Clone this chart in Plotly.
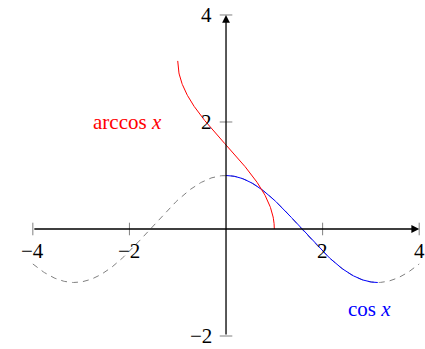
import numpy as np
import plotly.graph_objects as go

# axis extents and tick values
x_ticks = [-4, -2, 2, 4]
y_ticks = [-2, 2, 4]
x_min, x_max = -4, 4
y_min, y_max = -2, 4

# sampled domains for the curves
x_full = np.linspace(-4, 4, 400)
x_cos = np.linspace(0, np.pi, 300)
x_acos = np.linspace(-1, 1, 400)

font_family = "'Liberation Serif', 'DejaVu Serif', serif"
tick_gray = "#808080"

fig = go.Figure()

# full cosine, dashed gray
fig.add_trace(go.Scatter(x=x_full, y=np.cos(x_full), mode="lines",
                         line=dict(color="#808080", width=1, dash="6px,5px"),
                         hoverinfo="skip"))
# restricted cosine on [0, pi]
fig.add_trace(go.Scatter(x=x_cos, y=np.cos(x_cos), mode="lines",
                         line=dict(color="#0000ff", width=1), hoverinfo="skip"))
# its inverse
fig.add_trace(go.Scatter(x=x_acos, y=np.arccos(x_acos), mode="lines",
                         line=dict(color="#ff0000", width=1), hoverinfo="skip"))

# tick marks on the centred axes
fig.add_trace(go.Scatter(x=x_ticks, y=[0] * len(x_ticks), mode="markers",
                         marker=dict(symbol="line-ns", size=9,
                                     line=dict(color=tick_gray, width=1)),
                         hoverinfo="skip"))
fig.add_trace(go.Scatter(x=[0] * len(y_ticks), y=y_ticks, mode="markers",
                         marker=dict(symbol="line-ew", size=9,
                                     line=dict(color=tick_gray, width=1)),
                         hoverinfo="skip"))

# axis lines with arrow heads
fig.add_annotation(x=x_max, y=0, ax=x_min, ay=0, xref="x", yref="y",
                   axref="x", ayref="y", text="", showarrow=True,
                   arrowhead=2, arrowsize=1.2, arrowwidth=1.3, arrowcolor="black")
fig.add_annotation(x=0, y=y_max, ax=0, ay=y_min, xref="x", yref="y",
                   axref="x", ayref="y", text="", showarrow=True,
                   arrowhead=2, arrowsize=1.2, arrowwidth=1.3, arrowcolor="black")

# tick labels
for v in x_ticks:
    fig.add_annotation(x=v, y=0, xref="x", yref="y", text=f"{v}".replace("-", "−"),
                       showarrow=False, yshift=-22,
                       font=dict(family=font_family, size=21, color="black"))
for v in y_ticks:
    fig.add_annotation(x=0, y=v, xref="x", yref="y", text=f"{v}".replace("-", "−"),
                       showarrow=False, xanchor="right", xshift=-12,
                       font=dict(family=font_family, size=21, color="black"))

# curve labels
fig.add_annotation(x=-2.03, y=2.0, xref="x", yref="y", text="arccos <i>x</i>",
                   showarrow=False, font=dict(family=font_family, size=21, color="#ff0000"))
fig.add_annotation(x=2.98, y=-1.5, xref="x", yref="y", text="cos <i>x</i>",
                   showarrow=False, font=dict(family=font_family, size=21, color="#0000ff"))

fig.update_layout(
    width=425, height=349,
    margin=dict(l=0, r=0, t=0, b=0),
    paper_bgcolor="white", plot_bgcolor="white",
    showlegend=False,
    xaxis=dict(range=[-4.68, 4.12], visible=False),
    yaxis=dict(range=[-2.243, 4.28], visible=False),
)

fig.write_html("out.html")
